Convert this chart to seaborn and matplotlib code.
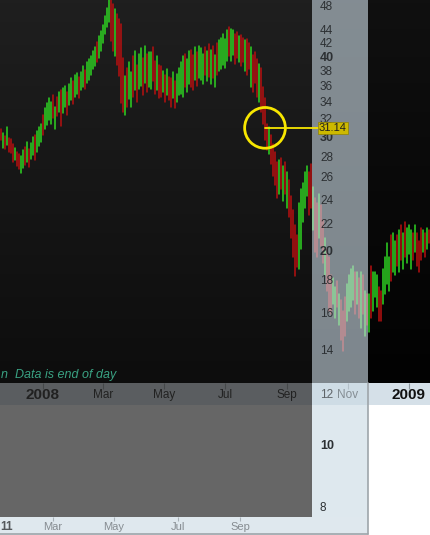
import numpy as np
import pandas as pd
import matplotlib.pyplot as plt
import matplotlib.dates as mdates
from matplotlib.patches import Rectangle
from matplotlib.lines import Line2D
import seaborn as sns

sns.set_style('dark')
plt.rcParams['font.family'] = ['Liberation Sans', 'DejaVu Sans']

# ---- data (one bar every 2 days) ----
first_bar = '2007-11-20'
lows = [
    29.8, 29.0, 28.9, 29.3, 28.6, 28.5, 27.6, 27.8, 27.2, 26.9,
    26.5, 27.0, 27.3, 27.6, 27.1, 27.9, 28.3, 27.8, 28.6, 29.2,
    29.6, 30.4, 31.0, 31.5, 32.0, 31.6, 32.2, 31.0, 32.5, 33.0,
    31.4, 32.8, 33.5, 32.6, 33.8, 34.4, 33.9, 34.8, 35.2, 34.6,
    35.6, 36.1, 35.8, 36.6, 37.0, 37.6, 38.4, 38.9, 39.4, 40.0,
    41.0, 42.2, 43.5, 44.6, 45.5, 42.5, 41.0, 40.2, 39.0, 37.5,
    34.0, 33.0, 32.6, 33.5, 34.5, 33.6, 34.8, 35.6, 34.2, 35.8,
    36.2, 35.0, 36.6, 35.4, 36.0, 35.8, 36.8, 35.2, 35.6, 34.6,
    34.8, 35.4, 34.2, 35.0, 34.4, 33.6, 34.6, 33.4, 34.2, 35.0,
    35.2, 34.8, 36.0, 35.4, 36.4, 36.0, 35.6, 37.0, 36.2, 37.2,
    37.0, 36.4, 37.6, 36.8, 37.4, 36.4, 37.2, 36.0, 37.6, 38.2,
    38.4, 39.0, 38.6, 39.6, 40.2, 39.6, 40.4, 39.2, 40.0, 39.4,
    38.8, 39.4, 38.2, 37.6, 38.4, 36.0, 35.4, 36.6, 34.8, 34.2,
    33.0, 31.6, 29.8, 28.8, 28.4, 27.4, 26.2, 25.4, 24.2, 24.6,
    25.0, 24.0, 24.6, 23.4, 22.6, 21.0, 19.6, 18.3, 18.9, 18.8,
    20.2, 22.2, 23.4, 24.4, 22.8, 23.4, 21.6, 20.0, 19.6, 21.0,
    20.4, 19.2, 18.4, 17.4, 16.2, 16.0, 16.6, 15.8, 16.4, 15.4,
    14.6, 14.0, 14.8, 15.6, 16.2, 16.4, 16.8, 16.0, 16.6, 15.8,
    15.2, 16.0, 14.8, 15.4, 15.0, 15.8, 16.2, 17.0, 16.4, 15.6,
    15.6, 16.6, 17.2, 17.8, 17.4, 18.0, 18.6, 18.4, 19.0, 18.6,
    19.4, 18.8, 19.6, 19.2, 19.8, 18.8, 19.4, 20.0, 19.0, 18.6,
    19.4, 20.0, 19.6, 20.2, 20.6, 20.4,
]
highs = [
    31.0, 30.6, 30.2, 31.2, 30.0, 29.9, 29.4, 29.0, 28.6, 28.4,
    28.2, 28.8, 29.1, 29.6, 28.9, 29.5, 30.1, 30.4, 30.8, 31.2,
    31.6, 32.6, 33.4, 34.0, 34.6, 34.2, 35.0, 33.6, 34.8, 35.4,
    35.6, 35.9, 36.2, 35.4, 36.4, 37.2, 36.8, 37.6, 37.9, 37.4,
    38.0, 38.8, 38.3, 39.4, 39.9, 40.2, 41.0, 41.6, 42.4, 43.2,
    44.0, 45.0, 46.5, 47.8, 49.5, 49.2, 48.5, 47.6, 46.8, 46.0,
    45.2, 40.0, 37.5, 38.6, 39.4, 38.0, 40.3, 41.0, 39.0, 40.6,
    41.4, 40.0, 41.8, 40.6, 40.9, 40.8, 41.6, 39.6, 40.2, 39.0,
    38.8, 38.2, 37.6, 38.4, 37.4, 37.2, 38.0, 36.8, 37.8, 38.6,
    39.4, 40.2, 40.6, 39.8, 41.0, 41.2, 40.4, 41.6, 40.8, 41.8,
    41.4, 40.6, 41.6, 41.0, 42.0, 41.2, 41.8, 40.4, 42.2, 42.6,
    43.0, 43.6, 42.8, 44.2, 44.6, 44.4, 44.2, 43.6, 43.8, 43.2,
    43.4, 43.0, 42.6, 42.8, 42.2, 41.6, 40.4, 40.8, 39.8, 39.2,
    38.6, 36.0, 34.6, 31.6, 31.2, 30.4, 29.4, 28.6, 27.6, 27.8,
    28.0, 27.2, 27.6, 26.6, 25.8, 24.4, 23.2, 22.0, 21.2, 23.8,
    25.0, 25.6, 26.6, 27.2, 26.6, 27.4, 25.2, 24.2, 23.8, 24.6,
    23.6, 22.4, 21.0, 20.2, 19.6, 18.4, 18.2, 17.6, 18.0, 17.2,
    16.8, 16.2, 17.0, 17.8, 18.4, 18.8, 19.0, 18.6, 18.6, 18.2,
    18.6, 18.4, 17.4, 17.2, 17.2, 19.0, 18.6, 18.6, 18.4, 17.6,
    17.4, 18.8, 19.6, 20.6, 19.6, 21.2, 21.4, 20.8, 21.2, 21.6,
    22.0, 21.4, 22.2, 21.8, 22.0, 21.6, 21.4, 22.0, 21.4, 20.8,
    21.8, 21.6, 21.4, 21.8, 21.6, 21.4,
]
# g = up day, r = down day
directions = ("rgrgrrrgrrggrgrggrgggrggggrgrgrggrggrggrggrgggggrg"
              "gggggrrgrrrrgrggrgrggrgrggrrgrrgrgrrgrggggrggrrgrgg"
              "grgrgrgrgggggrggrrgrrgrrgrrrgrrrrgrrrrgrgrgrrrrrgg"
              "gggrrgrrgrrgrrrggrgrrrggggrgrgrgrgrgggrrggggrggrgrg"
              "rgggrgrrrgrgrgr")

hl_date = '2008-08-10'
hl_price = 31.14
label_date = '2008-10-03'

band_dates = ['2008-01-01', '2008-03-01', '2008-05-01', '2008-07-01',
              '2008-09-01', '2008-11-01', '2009-01-01']
band_labels = ['2008', 'Mar', 'May', 'Jul', 'Sep', 'Nov', '2009']

panel_ticks = [48, 44, 42, 40, 38, 36, 34, 32, 30, 28, 26, 24, 22, 20,
               18, 16, 14, 12, 10, 8]
panel_minor = [9, 11, 13, 15, 17, 19, 21, 23, 25, 27, 46]
bold_ticks = [40, 30, 20, 10]

strip_labels = ['11', 'Mar', 'May', 'Jul', 'Sep']
strip_pos = [0, 53, 114, 178, 240]

n = len(lows)
assert len(highs) == n
directions = directions[:n]
dates = pd.date_range(first_bar, periods=n, freq='2D')
df = pd.DataFrame({
    'date': np.repeat(dates, 2),
    'price': np.column_stack([lows, highs]).ravel(),
    'bar': np.repeat(np.arange(n), 2),
    'dir': np.repeat(['up' if c == 'g' else 'down' for c in directions], 2),
})

# ---- layout helpers (pixel boxes) ----
W, H = 431, 535


def box(x0, y0, x1, y1):
    return [x0 / W, 1 - y1 / H, (x1 - x0) / W, (y1 - y0) / H]


def rect(x0, y0, x1, y1, **kw):
    return Rectangle((x0 / W, 1 - y1 / H), (x1 - x0) / W, (y1 - y0) / H,
                     transform=fig.transFigure, ec='none', **kw)


fig = plt.figure(figsize=(W / 100, H / 100), dpi=100, facecolor='white')

x_left, x_right = pd.Timestamp('2007-11-19'), pd.Timestamp('2009-01-23')
y_low, y_high = 12.5, 49.2

# background gradient
axbg = fig.add_axes(box(0, 0, W, 383), zorder=-1)
rows = 120
img = np.empty((rows, W, 3))
img[:, :312, :] = np.linspace(31, 13, rows)[:, None, None] / 255
img[:, 312:, :] = np.linspace(16, 2, rows)[:, None, None] / 255
axbg.imshow(img, aspect='auto', extent=(0, 1, 0, 1))
axbg.axis('off')

# price bars
ax = fig.add_axes(box(0, 0, W, 383), zorder=0)
ax.set_facecolor('none')
sns.lineplot(data=df, x='date', y='price', units='bar', estimator=None,
             hue='dir', palette={'up': '#2ed422', 'down': '#b81010'},
             lw=1.1, legend=False, sort=False, ax=ax)
ax.set_yscale('log')
ax.set_ylim(y_low, y_high)
ax.set_xlim(x_left, x_right)
ax.axis('off')

ax.text(0.002, 1 - 375 / 383, 'n  Data is end of day', transform=ax.transAxes,
        ha='left', va='center', fontsize=9, style='italic', color='#3aa283')

# date band
axb = fig.add_axes(box(0, 383, W, 405), zorder=0)
axb.set_facecolor('#d5e0e8')
axb.set_xlim(mdates.date2num(x_left), mdates.date2num(x_right))
axb.set_ylim(0, 1)
bd = mdates.date2num(pd.to_datetime(band_dates))
axb.set_xticks(bd)
axb.set_yticks([])
axb.tick_params(axis='x', top=True, bottom=False, direction='in', length=4,
                color='#8d979e', labeltop=False, labelbottom=False)
for s in axb.spines.values():
    s.set_visible(False)
for d, lab in zip(bd, band_labels):
    big = lab.isdigit()
    axb.text(d, 0.45, lab, ha='center', va='center',
             fontsize=11 if big else 8.5, weight='bold' if big else 'normal',
             color='#111111')

# overlay window shading
fig.add_artist(rect(0, 383, 312, 517, fc='#282828', alpha=0.71, zorder=1))
fig.add_artist(rect(312, 0, 368, 517, fc=(203 / 255, 218 / 255, 228 / 255),
                    alpha=0.62, zorder=1))

# overlay price axis
axp = fig.add_axes(box(312, 0, 368, 517), zorder=2)
axp.set_facecolor('none')
axp.set_yscale('log')
axp.set_ylim(7.746, y_high)
axp.set_xlim(0, 1)
axp.set_xticks([])
axp.set_yticks(panel_ticks)
axp.set_yticks(panel_minor, minor=True)
axp.tick_params(axis='y', which='major', direction='in', length=5,
                color='#6a7075', labelleft=False)
axp.tick_params(axis='y', which='minor', direction='in', length=3,
                color='#7a8085', labelleft=False)
for s in axp.spines.values():
    s.set_visible(False)
for t in panel_ticks:
    b = t in bold_ticks
    axp.text(8 / 56, t, str(t), transform=axp.get_yaxis_transform(),
             ha='left', va='center', fontsize=9 if b else 8.5,
             weight='bold' if b else 'normal',
             color='#5e6468' if t == 12 else '#2c3033')

# overlay time strip
axs = fig.add_axes(box(0, 517, 368, 535), zorder=2)
axs.set_facecolor('#dfe8ee')
axs.set_xlim(0, 368)
axs.set_ylim(0, 1)
axs.set_xticks(strip_pos[1:])
axs.set_yticks([])
axs.tick_params(axis='x', top=True, bottom=False, direction='in', length=3,
                color='#a9b2b8', labeltop=False, labelbottom=False)
for s in axs.spines.values():
    s.set_visible(False)
for p, lab in zip(strip_pos, strip_labels):
    if lab.isdigit():
        axs.text(p, 0.42, lab, ha='left', va='center', fontsize=8.5,
                 weight='bold', color='#55595d')
    else:
        axs.text(p, 0.42, lab, ha='center', va='center', fontsize=8,
                 color='#868c91')

# overlay window frame
fig.add_artist(Line2D([368 / W, 368 / W], [1 - 383 / H, 1 - 534 / H],
                      transform=fig.transFigure, color='#9ea5aa', lw=1.2,
                      zorder=3))
fig.add_artist(Line2D([0, 368 / W], [1 - 534 / H, 1 - 534 / H],
                      transform=fig.transFigure, color='#9ea5aa', lw=1.2,
                      zorder=3))

# highlighted price
axa = fig.add_axes(box(0, 0, W, 383), zorder=4)
axa.set_facecolor('none')
axa.set_yscale('log')
axa.set_ylim(y_low, y_high)
axa.set_xlim(mdates.date2num(x_left), mdates.date2num(x_right))
hx = mdates.date2num(pd.Timestamp(hl_date))
lx = mdates.date2num(pd.Timestamp(label_date))
axa.scatter([hx], [hl_price], s=860, facecolors='none', edgecolors='#f7e600',
            linewidths=2.0)
axa.plot([hx, lx], [hl_price, hl_price], color='#f7e600', lw=1.3)
axa.text(lx, hl_price, '31.14', ha='left', va='center', fontsize=8,
         color='#1e1e1e',
         bbox=dict(boxstyle='square,pad=0.06', fc='#cdb900', ec='#8f8200',
                   lw=0.5))
axa.axis('off')

fig.savefig('out.png', dpi=100)
